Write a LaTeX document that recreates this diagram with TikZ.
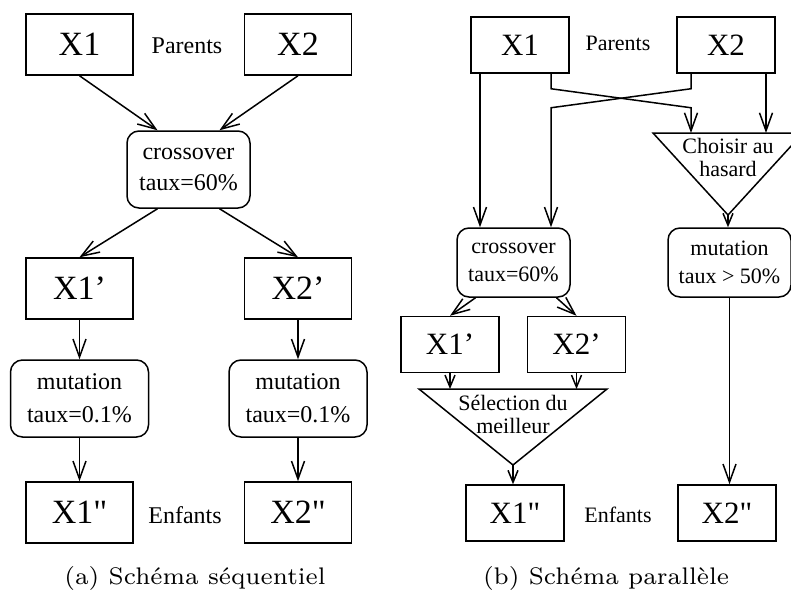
\documentclass[tikz,border=0pt]{standalone}
\usepackage{fontspec}
\usepackage{tikz}
\usetikzlibrary{arrows.meta}
\newfontfamily\tms{Liberation Serif}
\newfontfamily\capfont{lmroman7-regular.otf}

\begin{document}
\begin{tikzpicture}[x=1pt, y=-1pt, line width=1.5pt,
    xbox/.style={draw, inner sep=0pt, minimum width=107, minimum height=61, font=\tms\fontsize{34}{40}\selectfont},
    sbox/.style={xbox, minimum width=98, minimum height=56, font=\tms\fontsize{31}{36}\selectfont},
    opbox/.style={draw, rounded corners=12, inner sep=0pt, align=center, font=\tms\fontsize{24}{31}\selectfont},
    sopbox/.style={opbox, minimum width=113, minimum height=69, font=\tms\fontsize{22}{28}\selectfont},
    lbl/.style={font=\tms\fontsize{24}{28}\selectfont},
    slbl/.style={font=\tms\fontsize{22}{26}\selectfont},
    tri/.style={align=center, inner sep=0pt, font=\tms\fontsize{22}{23}\selectfont},
    arr/.style={-{Straight Barb[length=18pt,width=13pt]}},
    arrs/.style={-{Straight Barb[length=12pt,width=10pt]}},
    captxt/.style={font=\capfont\fontsize{24}{28}\selectfont}]
  \useasboundingbox (0,0) rectangle (791,594);
  \clip (0,0) rectangle (791,594);
  % (a) sequential scheme
  \node[xbox] (a1) at (79.5,44.5) {X1};
  \node[xbox] (a2) at (298,44.5) {X2};
  \node[lbl] (apar) at (187,46) {Parents};
  \node[opbox, minimum width=123, minimum height=77] (across) at (188.5,169.5) {crossover\\taux=60\%};
  \node[xbox] (ap1) at (79.5,288.5) {X1’};
  \node[xbox] (ap2) at (298,288.5) {X2’};
  \node[opbox, minimum width=138, minimum height=77, font=\tms\fontsize{24}{33}\selectfont] (amut1) at (79.5,398.5) {mutation\\taux=0.1\%};
  \node[opbox, minimum width=138, minimum height=77, font=\tms\fontsize{24}{33}\selectfont] (amut2) at (298,398.5) {mutation\\taux=0.1\%};
  \node[xbox] (app1) at (79.5,512.5) {X1"};
  \node[xbox] (app2) at (298,512.5) {X2"};
  \node[lbl] (aenf) at (185,515) {Enfants};
  \node[captxt] (capa) at (195,578) {(a) Schéma séquentiel};
  \draw[arr] (a1.south) -- ([xshift=-31]across.north);
  \draw[arr] (a2.south) -- ([xshift=31]across.north);
  \draw[arr] ([xshift=-31]across.south) -- (ap1.north);
  \draw[arr] ([xshift=31]across.south) -- (ap2.north);
  \foreach \i in {1,2}{
    \draw[arr] (ap\i.south) -- (amut\i.north);
    \draw[arr] (amut\i.south) -- (app\i.north);
  }
  % (b) parallel scheme
  \node[sbox] (b1) at (520,45) {X1};
  \node[sbox] (b2) at (726,45) {X2};
  \node[slbl] (bpar) at (618,43) {Parents};
  \node[sopbox] (bcross) at (513.5,262.5) {crossover\\taux=60\%};
  \node[sopbox, minimum width=123] (bmut) at (729.5,262.5) {mutation\\taux > 50\%};
  \coordinate (chL) at (653,133);
  \coordinate (chR) at (803,133);
  \coordinate (chA) at (728,215);
  \draw (chL) -- (chR) -- (chA) -- cycle;
  \node[tri] (choix) at (728,157) {Choisir au\\hasard};
  \node[sbox] (bp1) at (450,344.5) {X1’};
  \node[sbox] (bp2) at (576.5,344.5) {X2’};
  \coordinate (seL) at (419,389);
  \coordinate (seR) at (607,389);
  \coordinate (seA) at (513,465);
  \draw (seL) -- (seR) -- (seA) -- cycle;
  \node[tri] (sel) at (513,414) {Sélection du\\meilleur};
  \node[sbox] (bpp1) at (515,513) {X1"};
  \node[sbox] (bpp2) at (727,513) {X2"};
  \node[slbl] (benf) at (618,515) {Enfants};
  \node[captxt] (capb) at (606,578) {(b) Schéma parallèle};
  \draw[arr] ([xshift=-40]b1.south) -- ([xshift=-40]b1.south |- bcross.north);
  \draw[arr] ([xshift=31]b1.south) -- ++(0,15) -- ([xshift=-35,yshift=-34]b2.south) -- ([xshift=-35]b2.south |- chL);
  \draw[arr] ([xshift=-35]b2.south) -- ++(0,15) -- ([xshift=31,yshift=-34]b1.south) -- ([xshift=31]b1.south |- bcross.north);
  \draw[arr] ([xshift=40]b2.south) -- ([xshift=40]b2.south |- chL);
  \draw[arrs] (chA) -- (chA |- bmut.north);
  \draw[arr] ([xshift=-38]bcross.south) -- (bp1.north);
  \draw[arr] ([xshift=43]bcross.south) -- (bp2.north);
  \draw[arrs] (bp1.south) -- (bp1.south |- seL);
  \draw[arrs] (bp2.south) -- (bp2.south |- seL);
  \draw[arrs] (seA) -- (seA |- bpp1.north);
  \draw[arr] (bmut.south) -- (bmut.south |- bpp2.north);
\end{tikzpicture}
\end{document}
